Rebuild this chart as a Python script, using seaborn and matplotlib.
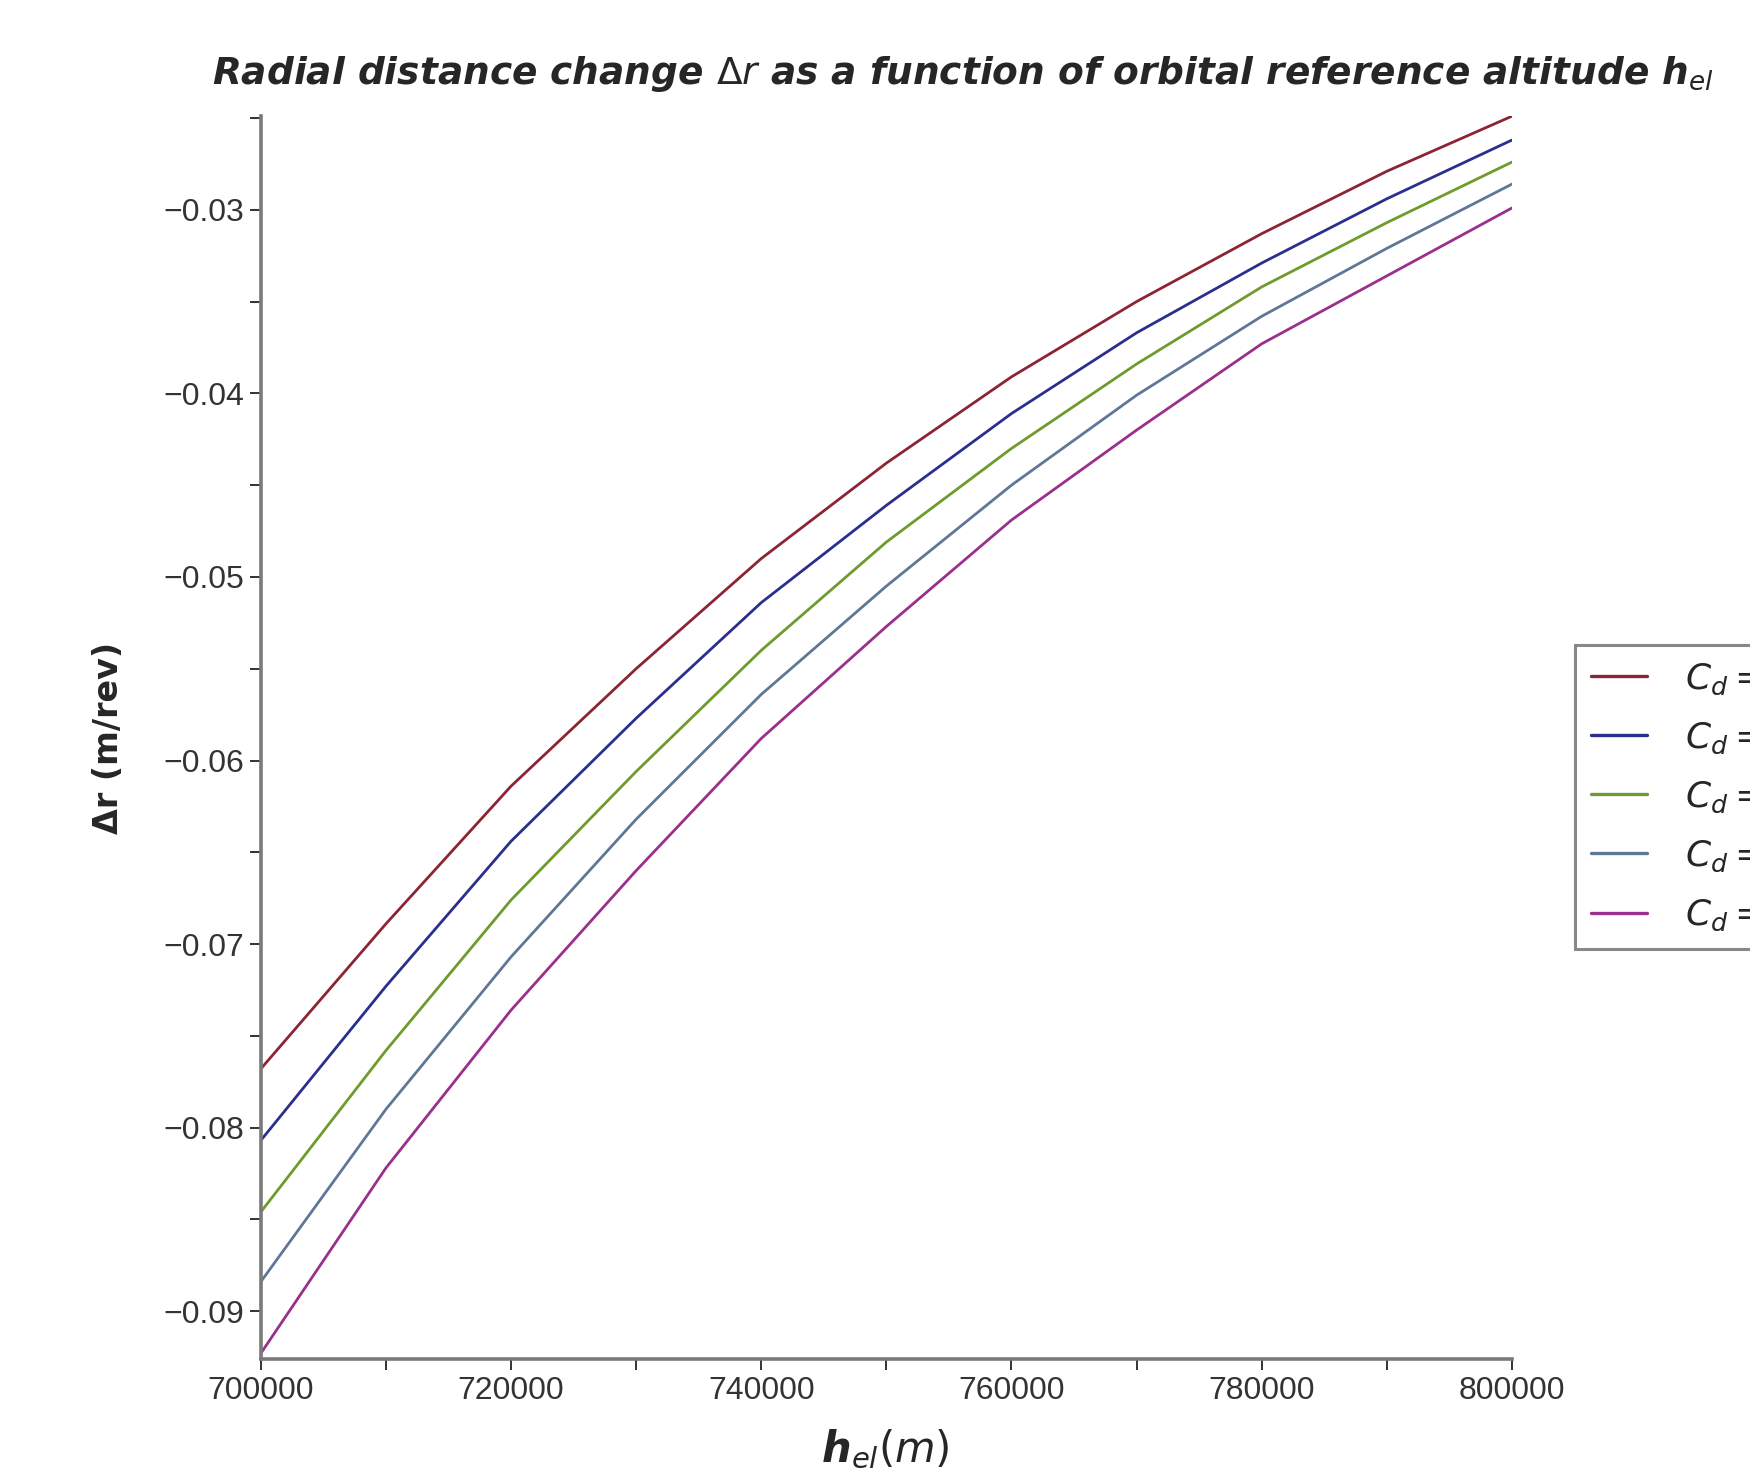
import matplotlib
matplotlib.use("Agg")
import matplotlib.pyplot as plt
import matplotlib.ticker as mticker
import pandas as pd
import seaborn as sns

# values at every 10 km
altitude = [700000, 710000, 720000, 730000, 740000, 750000,
            760000, 770000, 780000, 790000, 800000]
cd_values = ["2.0", "2.1", "2.2", "2.3", "2.4"]
dr_cd_20 = [-0.0768, -0.0689, -0.0614, -0.0550, -0.0490, -0.0438,
            -0.0391, -0.0350, -0.0313, -0.0279, -0.0249]
dr_cd_21 = [-0.0807, -0.0723, -0.0644, -0.0577, -0.0514, -0.0461,
            -0.0411, -0.0367, -0.0329, -0.0294, -0.0262]
dr_cd_22 = [-0.0846, -0.0758, -0.0676, -0.0606, -0.0540, -0.0481,
            -0.0430, -0.0384, -0.0342, -0.0307, -0.0274]
dr_cd_23 = [-0.0884, -0.0790, -0.0707, -0.0632, -0.0564, -0.0505,
            -0.0450, -0.0401, -0.0358, -0.0321, -0.0286]
dr_cd_24 = [-0.0923, -0.0822, -0.0736, -0.0660, -0.0588, -0.0527,
            -0.0469, -0.0420, -0.0373, -0.0336, -0.0299]
line_colors = ["#8c2434", "#2a2f8e", "#6f9a2c", "#5f7796", "#9a2f8c"]

series = [dr_cd_20, dr_cd_21, dr_cd_22, dr_cd_23, dr_cd_24]
df = pd.concat([pd.DataFrame({"h": altitude, "dr": s, "Cd": cd})
                for cd, s in zip(cd_values, series)], ignore_index=True)

sns.set_style("ticks")
plt.rcParams["font.family"] = ["Liberation Sans", "DejaVu Sans"]
plt.rcParams["mathtext.fontset"] = "dejavusans"

fig = plt.figure(figsize=(17.5, 14.76), dpi=100)
ax = fig.add_axes([0.149, 0.0793, 0.715, 0.842])

sns.lineplot(data=df, x="h", y="dr", hue="Cd", palette=line_colors,
             linewidth=2.0, ax=ax)

ax.set_xlim(700000, 800000)
ax.set_ylim(-0.0926, -0.0249)
ax.xaxis.set_major_locator(mticker.MultipleLocator(20000))
ax.xaxis.set_minor_locator(mticker.MultipleLocator(10000))
ax.xaxis.set_major_formatter(mticker.FuncFormatter(lambda v, p: f"{v:.0f}"))
ax.yaxis.set_major_locator(mticker.MultipleLocator(0.01))
ax.yaxis.set_minor_locator(mticker.MultipleLocator(0.005))
ax.yaxis.set_major_formatter(
    mticker.FuncFormatter(lambda v, p: f"{v:.2f}".replace("-", "\u2212")))

for side in ["top", "right"]:
    ax.spines[side].set_visible(False)
for side in ["left", "bottom"]:
    ax.spines[side].set_color("#7a7a7a")
    ax.spines[side].set_linewidth(2.6)
ax.tick_params(which="both", direction="out", length=8, width=1.4,
               color="#333333", labelsize=23, labelcolor="#333333", pad=4)
ax.set_xlabel("")
ax.set_ylabel("")

# legend runs off the right edge of the figure, as in the original
handles, _ = ax.get_legend_handles_labels()
ax.get_legend().remove()
leg = fig.legend(handles, [rf"$C_d = {c}$" for c in cd_values],
                 loc="upper left", bbox_to_anchor=(0.8897, 0.5752),
                 fontsize=26, handlelength=1.55, labelspacing=0.66,
                 frameon=True, fancybox=False, edgecolor="#6a6a6a",
                 borderpad=0.45, handletextpad=1.05)
leg.get_frame().set_linewidth(2.2)
for line in leg.get_lines():
    line.set_linewidth(2.4)

fig.text(0.121, 0.943,
         r"Radial distance change $\Delta r$ as a function of orbital reference altitude h$_{el}$",
         ha="left", va="baseline", fontsize=27, fontweight="bold",
         fontstyle="italic", family=["DejaVu Sans"])
fig.text(0.506, 0.0095, r"$\mathbfit{h}_{el}(\mathit{m})$",
         ha="center", va="baseline", fontsize=30)
fig.text(0.062, 0.5003, "\u0394r (m/rev)", rotation=90, ha="center",
         va="center", fontsize=24, fontweight="bold",
         family=["DejaVu Sans"])

fig.savefig("out.png", dpi=100, facecolor="white")
